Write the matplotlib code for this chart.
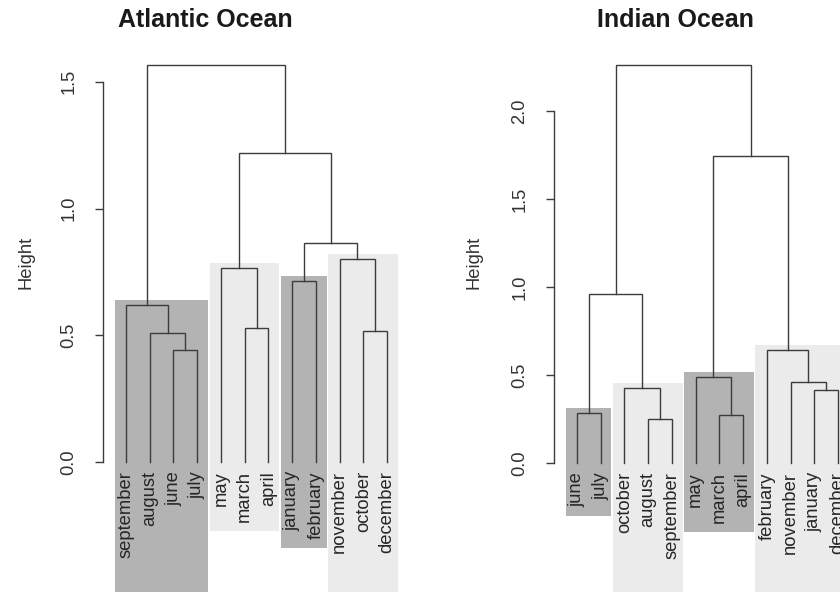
"""
Seasonal clustering dendrograms -- Atlantic vs Indian Ocean
hclust-style trees with shaded cluster boxes behind the leaves.
"""

import matplotlib
matplotlib.use("Agg")
import matplotlib.pyplot as plt
from matplotlib.patches import Rectangle

# ── Data ─────────────────────────────────────────────────────────────────────
# leaf order as drawn left to right
atl_leaves = ["september", "august", "june", "july", "may", "march", "april",
              "january", "february", "november", "october", "december"]
# merges: (child a, child b, height); ints point to an earlier merge
atl_merges = [("june", "july", 0.442),
              ("august", 0, 0.509),
              ("september", 1, 0.619),
              ("march", "april", 0.529),
              ("may", 3, 0.766),
              ("january", "february", 0.714),
              ("october", "december", 0.517),
              ("november", 6, 0.800),
              (5, 7, 0.864),
              (4, 8, 1.219),
              (2, 9, 1.566)]
atl_clusters = [(["september", "august", "june", "july"], "dark"),
                (["may", "march", "april"], "light"),
                (["january", "february"], "dark"),
                (["november", "october", "december"], "light")]
atl_ticks = [0.0, 0.5, 1.0, 1.5]

ind_leaves = ["june", "july", "october", "august", "september", "may", "march",
              "april", "february", "november", "january", "december"]
ind_merges = [("june", "july", 0.284),
              ("august", "september", 0.250),
              ("october", 1, 0.426),
              (0, 2, 0.960),
              ("march", "april", 0.273),
              ("may", 4, 0.489),
              ("january", "december", 0.415),
              ("november", 6, 0.460),
              ("february", 7, 0.642),
              (5, 8, 1.744),
              (3, 9, 2.261)]
ind_clusters = [(["june", "july"], "dark"),
                (["october", "august", "september"], "light"),
                (["may", "march", "april"], "dark"),
                (["february", "november", "january", "december"], "light")]
ind_ticks = [0.0, 0.5, 1.0, 1.5, 2.0]

# ── Style ────────────────────────────────────────────────────────────────────
FS = 13.2
plt.rcParams.update({
    "font.family": ["Liberation Sans", "DejaVu Sans"],
    "font.size": FS,
})
SHADE = {"dark": "#b3b3b3", "light": "#ebebeb"}
LINE = "#3c3c3c"
TXT = "#262626"
W, H = 840, 592
LEAF_PX = 23.73          # pixel spacing between leaves

fig = plt.figure(figsize=(W / 100, H / 100), dpi=100)


def make_axes(axis_px, zero_px, unit_px, right_px, top_px=40):
    """Axes whose left edge (the R axis line) sits at axis_px."""
    ax = fig.add_axes([axis_px / W, 0, (right_px - axis_px) / W, (H - top_px) / H])
    x0 = 0.03
    ax.set_xlim(x0, x0 + (right_px - axis_px) / LEAF_PX)
    ax.set_ylim(-(H - zero_px) / unit_px, (zero_px - top_px) / unit_px)
    return ax


def dendro(ax, leaves, merges, clusters, ticks, unit_px):
    xpos = {name: i + 1 for i, name in enumerate(leaves)}
    node_x, node_h, node_set = [], [], []

    def child(c):
        if isinstance(c, int):
            return node_x[c], node_h[c], node_set[c]
        return xpos[c], 0.0, {c}

    for a, b, h in merges:
        xa, ha, sa = child(a)
        xb, hb, sb = child(b)
        ax.plot([xa, xa, xb, xb], [ha, h, h, hb], color=LINE, lw=1.0,
                solid_joinstyle="miter", zorder=3)
        node_x.append((xa + xb) / 2)
        node_h.append(h)
        node_set.append(sa | sb)

    # leaf labels, hanging below y = 0
    texts = {}
    for name in leaves:
        texts[name] = ax.annotate(name, (xpos[name], 0), xytext=(0, -6.5),
                                  textcoords="offset points", rotation=90,
                                  ha="center", va="top", color=TXT,
                                  fontsize=FS, zorder=4)

    # cluster boxes: top just above the cluster node, bottom below the labels
    # (boxes whose labels come close to the lower edge run off the page)
    fig.canvas.draw()
    rend = fig.canvas.get_renderer()
    inv = ax.transData.inverted()
    pad_top = 5 / unit_px
    for members, shade in clusters:
        mset = set(members)
        top = max([h for h, s in zip(node_h, node_set) if s <= mset] + [0])
        low_px = min(texts[m].get_window_extent(rend).y0 for m in members) - 9
        if low_px < 40:
            low_px = -5
        bottom = inv.transform((0, low_px))[1]
        x_lo = min(xpos[m] for m in members) - 0.48
        x_hi = max(xpos[m] for m in members) + 0.45
        ax.add_patch(Rectangle((x_lo, bottom), x_hi - x_lo, top + pad_top - bottom,
                               facecolor=SHADE[shade], edgecolor="none", zorder=1))

    # R-style axis: left line only, spanning the tick range
    for s in ["top", "right", "bottom"]:
        ax.spines[s].set_visible(False)
    ax.spines["left"].set_bounds(ticks[0], ticks[-1])
    ax.spines["left"].set_color(LINE)
    ax.spines["left"].set_linewidth(1.0)
    ax.set_xticks([])
    ax.set_yticks(ticks)
    ax.set_yticklabels([f"{t:.1f}" for t in ticks], rotation=90, va="center",
                       color="#333333", fontsize=FS)
    ax.tick_params(axis="y", length=6, width=1.0, color=LINE, pad=12.5)
    ax.patch.set_alpha(0)


ax1 = make_axes(103, 462, 253.5, 410)
dendro(ax1, atl_leaves, atl_merges, atl_clusters, atl_ticks, 253.5)

ax2 = make_axes(554, 463, 176.0, 880)
dendro(ax2, ind_leaves, ind_merges, ind_clusters, ind_ticks, 176.0)

# titles and y labels
fig.text(205 / W, 1 - 20 / H, "Atlantic Ocean", ha="center", va="center",
         fontsize=18, fontweight="bold", color="#1a1a1a")
fig.text(675 / W, 1 - 20 / H, "Indian Ocean", ha="center", va="center",
         fontsize=18, fontweight="bold", color="#1a1a1a")
fig.text(26 / W, 1 - 262 / H, "Height", rotation=90, ha="center", va="center",
         fontsize=FS, color="#333333")
fig.text(474 / W, 1 - 262 / H, "Height", rotation=90, ha="center", va="center",
         fontsize=FS, color="#333333")

fig.savefig("out.png", dpi=100, facecolor="white")
plt.close(fig)
